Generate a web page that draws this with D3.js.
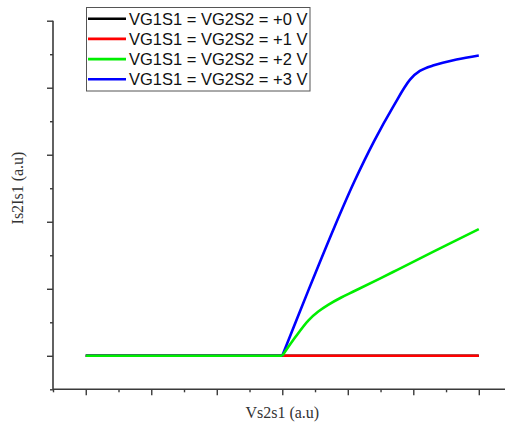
<!DOCTYPE html>
<html>
<head>
<meta charset="utf-8">
<script src="https://cdn.jsdelivr.net/npm/d3@7"></script>
<style>
  html, body { margin: 0; padding: 0; background: #fff; }
  svg { display: block; }
</style>
</head>
<body>
<svg id="chart" width="505" height="423"></svg>
<script>
// ---- data ----
const seriesNames = ["VG1S1 = VG2S2 = +0 V", "VG1S1 = VG2S2 = +1 V", "VG1S1 = VG2S2 = +2 V", "VG1S1 = VG2S2 = +3 V"];
const seriesColors = ["#000000", "#ff0000", "#00ee00", "#0000ff"];
const xBlack = [0, 3, 6];
const yBlack = [0, 0, 0];
const xRed = [0, 3, 6];
const yRed = [0, 0, 0];
const xGreen = [0, 3, 3.2, 3.4, 3.55, 3.7, 3.9, 4.11, 4.69, 5.3, 6.0];
const yGreen = [0, 0, 0.28, 0.53, 0.66, 0.76, 0.87, 0.97, 1.25, 1.55, 1.89];
const xBlue = [0, 3, 3.4, 3.8, 4.1, 4.4, 4.7, 4.95, 5.1, 5.3, 5.66, 6.0];
const yBlue = [0, 0, 0.98, 1.93, 2.60, 3.20, 3.73, 4.12, 4.25, 4.33, 4.42, 4.48];
const xMajorTicks = [0, 1, 2, 3, 4, 5, 6];
const xMinorTicks = [-0.5, 0.5, 1.5, 2.5, 3.5, 4.5, 5.5];
const yMajorTicks = [0, 1, 2, 3, 4, 5];
const yMinorTicks = [-0.5, 0.5, 1.5, 2.5, 3.5, 4.5];
const xTitle = "Vs2s1 (a.u)";
const yTitle = "Is2Is1 (a.u)";

// ---- layout ----
const svg = d3.select("#chart");
const x = d3.scaleLinear().domain([-0.5, 6.4]).range([53, 505]);
const y = d3.scaleLinear().domain([-0.5, 5]).range([389.3, 20.7]);
const axisColor = "#3a3a3a";

// axes
const xAxisMajor = d3.axisBottom(x).tickValues(xMajorTicks).tickSize(6).tickFormat("");
const xAxisMinor = d3.axisBottom(x).tickValues(xMinorTicks).tickSize(3).tickFormat("");
const yAxisMajor = d3.axisLeft(y).tickValues(yMajorTicks).tickSize(6).tickFormat("");
const yAxisMinor = d3.axisLeft(y).tickValues(yMinorTicks).tickSize(3).tickFormat("");

function styleAxis(g) {
  g.selectAll("path").attr("stroke", axisColor).attr("stroke-width", 1.6);
  g.selectAll("line").attr("stroke", axisColor).attr("stroke-width", 1.4);
}
const y0 = y(-0.5);
svg.append("g").attr("transform", `translate(0,${y0})`).call(xAxisMajor).call(styleAxis)
  .select(".domain").attr("d", `M${x(-0.5)},0H505`);
svg.append("g").attr("transform", `translate(0,${y0})`).call(xAxisMinor).call(styleAxis)
  .select(".domain").remove();
svg.append("g").attr("transform", `translate(${x(-0.5)},0)`).call(yAxisMajor).call(styleAxis)
  .select(".domain").attr("d", `M0,${y(-0.5)}V${y(5)}`);
svg.append("g").attr("transform", `translate(${x(-0.5)},0)`).call(yAxisMinor).call(styleAxis)
  .select(".domain").remove();

// titles
svg.append("text").attr("x", x(3)).attr("y", 418)
  .attr("text-anchor", "middle").attr("font-family", "'Liberation Serif', 'Times New Roman', serif")
  .attr("font-size", 16).attr("fill", "#333").text(xTitle);
svg.append("text").attr("transform", `translate(23,${188}) rotate(-90)`)
  .attr("text-anchor", "middle").attr("font-family", "'Liberation Serif', 'Times New Roman', serif")
  .attr("font-size", 16).attr("fill", "#333").text(yTitle);

// lines: flat part drawn straight, rising part (from x = 3 on) smoothed
const seriesX = [xBlack, xRed, xBlue, xGreen];
const seriesY = [yBlack, yRed, yBlue, yGreen];
const seriesColorOrder = [seriesColors[0], seriesColors[1], seriesColors[3], seriesColors[2]];
const lineFlat = d3.line().x(d => x(d[0])).y(d => y(d[1]));
const lineSmooth = d3.line().x(d => x(d[0])).y(d => y(d[1])).curve(d3.curveCatmullRom.alpha(0.5));
seriesX.forEach((xs, i) => {
  const pts = xs.map((v, j) => [v, seriesY[i][j]]);
  const k = xs.indexOf(3);
  const flat = pts.slice(0, k + 1);
  const rise = pts.slice(k);
  [[flat, lineFlat], [rise, lineSmooth]].forEach(([p, gen]) => {
    svg.append("path").datum(p).attr("d", gen)
      .attr("fill", "none").attr("stroke", seriesColorOrder[i])
      .attr("stroke-width", 2.6).attr("stroke-linejoin", "round");
  });
});

// legend
const lg = svg.append("g");
lg.append("rect").attr("x", 86.5).attr("y", 7.5).attr("width", 223.5).attr("height", 83.5)
  .attr("fill", "#fff").attr("stroke", "#555").attr("stroke-width", 1);
seriesNames.forEach((name, i) => {
  const ry = 18.7 + i * 20.2;
  lg.append("line").attr("x1", 88).attr("x2", 126).attr("y1", ry).attr("y2", ry)
    .attr("stroke", seriesColors[i]).attr("stroke-width", 2.6);
  lg.append("text").attr("x", 129).attr("y", ry + 6)
    .attr("font-family", "'Liberation Sans', Arial, sans-serif").attr("font-size", 16.5)
    .attr("fill", "#111").text(name);
});
</script>
</body>
</html>
